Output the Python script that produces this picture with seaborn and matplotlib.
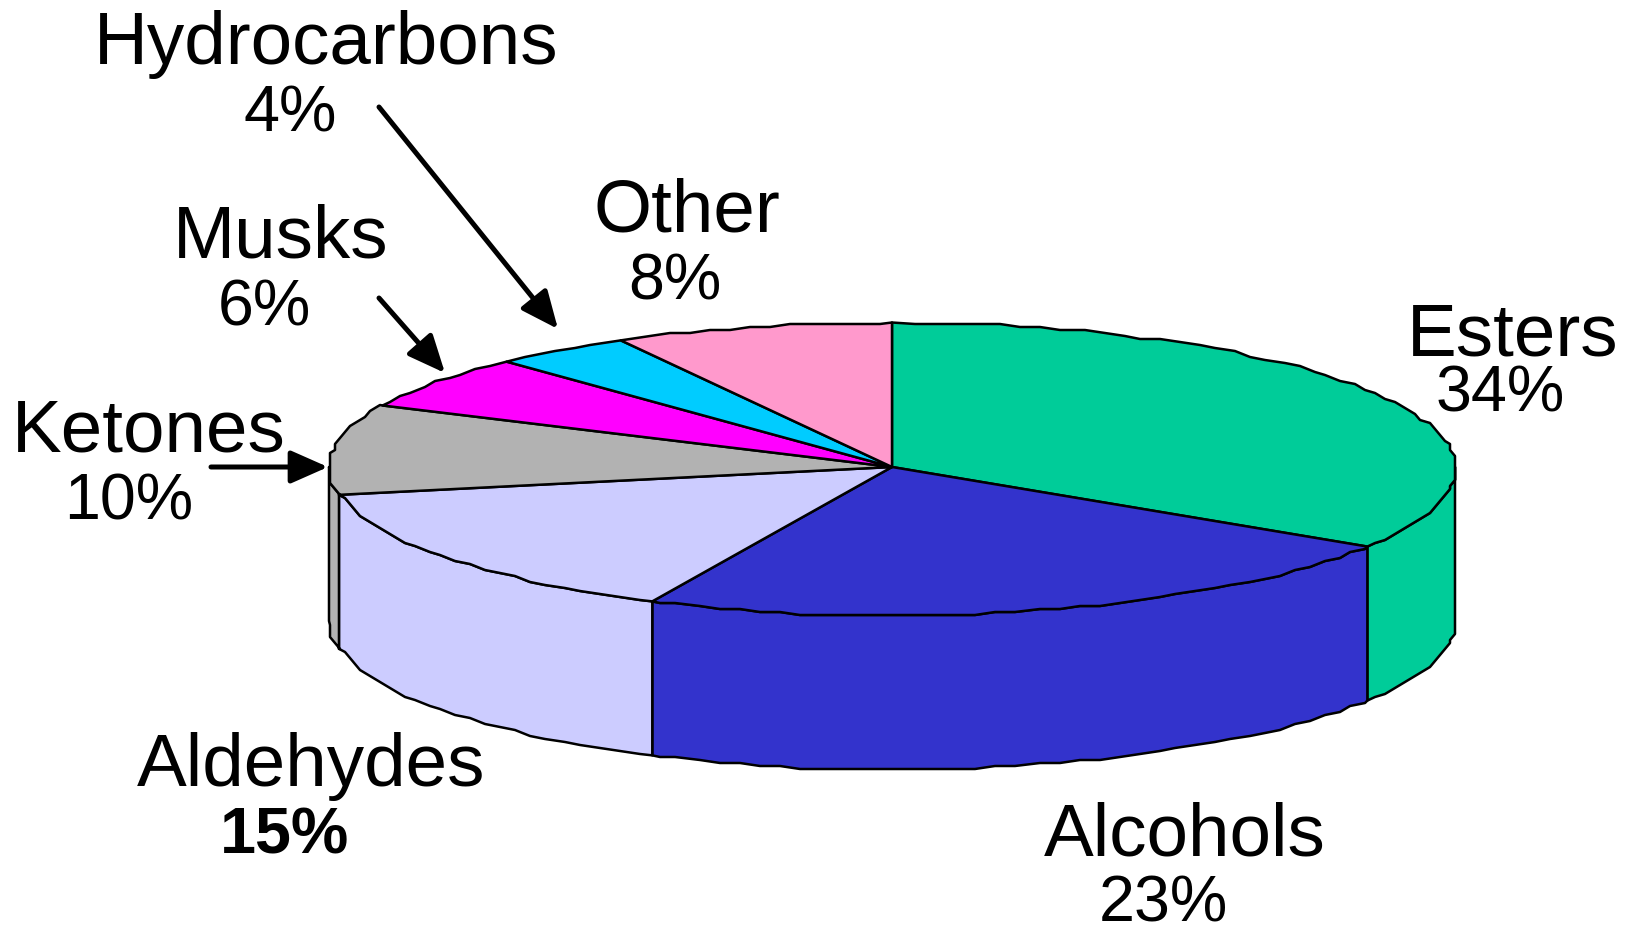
"""Fragrance ingredient classes drawn as a tilted 3D pie."""

import matplotlib
matplotlib.use("Agg")
import matplotlib.pyplot as plt
import numpy as np
import seaborn as sns

categories = ["Esters", "Alcohols", "Aldehydes", "Ketones", "Musks", "Hydrocarbons", "Other"]
shares = [34, 23, 15, 10, 6, 4, 8]
colors = ["#00CC99", "#3333CC", "#CCCCFF", "#B2B2B2", "#FF00FF", "#00CCFF", "#FF99CC"]

CX, CY = 892, 467
RX = 563
RY_BACK, RY_FRONT = 144.5, 148.5
DEPTH = 154
EDGE = 1.8
STEP = 2.2


def rim(a0, a1):
    """Rim points from angle a0 to a1 (deg, clockwise from the top), slightly rough like the source."""
    # same angle grid for every slice so the wall and top rims coincide
    inner = np.arange(np.ceil(a0 / STEP + 0.01), np.floor(a1 / STEP - 0.01) + 1) * STEP
    t = np.radians(inner)
    c = np.cos(t)
    x = np.round((CX + RX * np.sin(t)) / 5) * 5
    y = np.round((CY - np.where(c > 0, RY_BACK, RY_FRONT) * c) / 3) * 3
    x = np.clip(x, CX - RX, CX + RX)
    e = np.radians([a0, a1])
    ec = np.cos(e)
    ex = CX + RX * np.sin(e)
    ey = CY - np.where(ec > 0, RY_BACK, RY_FRONT) * ec
    return np.r_[ex[0], x, ex[1]], np.r_[ey[0], y, ey[1]]


sns.set_theme(style="white")
plt.rcParams["font.family"] = ["Liberation Sans", "DejaVu Sans"]

fig = plt.figure(figsize=(16.28, 9.26), dpi=100)
ax = fig.add_axes([0, 0, 1, 1])
ax.set_xlim(0, 1628)
ax.set_ylim(926, 0)
ax.axis("off")

palette = sns.color_palette(colors)
ends = np.cumsum(shares) / sum(shares) * 360
starts = np.r_[0, ends[:-1]]

# walls first, only the part of each slice on the front half of the ellipse
for a0, a1, c in zip(starts, ends, palette):
    lo, hi = max(a0, 90), min(a1, 270)
    if lo >= hi:
        continue
    x, y = rim(lo, hi)
    xs = np.r_[x, x[::-1]]
    ys = np.r_[y, (y + DEPTH)[::-1]]
    ax.fill(xs, ys, facecolor=c, edgecolor="black", linewidth=EDGE, joinstyle="round", zorder=2)

# top face
for a0, a1, c in zip(starts, ends, palette):
    x, y = rim(a0, a1)
    ax.fill(np.r_[CX, x], np.r_[CY, y], facecolor=c, edgecolor="black", linewidth=EDGE,
            joinstyle="round", zorder=3)

name_size = 53.7
pct_size = 46.5
labels = [
    ("Hydrocarbons", 326, 64, "4%", 290, 131, "normal"),
    ("Musks", 281, 258, "6%", 264, 326, "normal"),
    ("Other", 687, 232, "8%", 675, 299, "normal"),
    ("Esters", 1513, 355, "34%", 1500, 412, "normal"),
    ("Ketones", 149, 452, "10%", 129, 519, "normal"),
    ("Aldehydes", 311, 786, "15%", 285, 853, "bold"),
    ("Alcohols", 1185, 856, "23%", 1163, 922, "normal"),
]
for name, nx, ny, pct, px, py, weight in labels:
    ax.text(nx, ny, name, fontsize=name_size, ha="center", va="baseline", color="black", zorder=5)
    ax.text(px, py, pct, fontsize=pct_size, ha="center", va="baseline", color="black",
            fontweight=weight, zorder=5)

arrows = [((379, 107), (558, 329)), ((379, 298), (445, 373)), ((211, 467), (328, 467))]
for start, end in arrows:
    ax.annotate("", xy=end, xytext=start, zorder=6,
                arrowprops=dict(arrowstyle="-|>,head_length=0.95,head_width=0.42", color="black",
                                lw=3.6, mutation_scale=24, shrinkA=0, shrinkB=0))

fig.savefig("out.png", dpi=100, facecolor="white")
plt.close(fig)
